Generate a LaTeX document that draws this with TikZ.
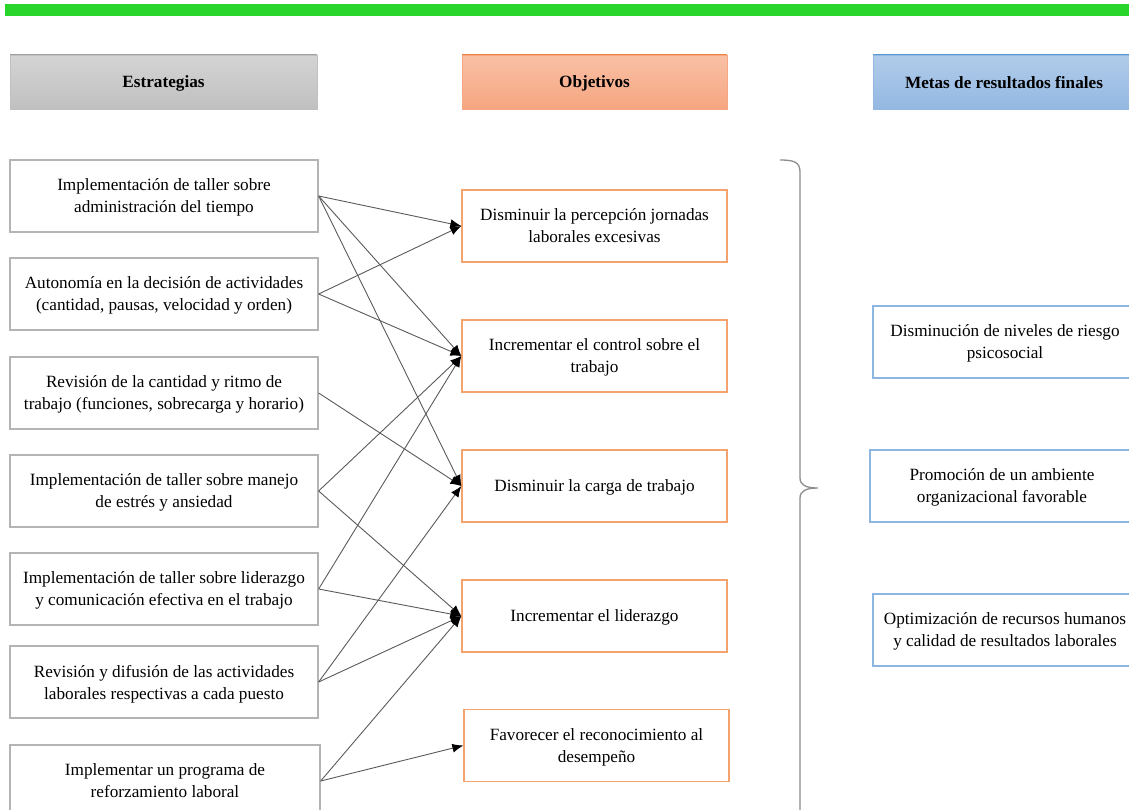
\documentclass[tikz,border=0pt]{standalone}
\usepackage{fontspec}
\setmainfont{Liberation Serif}
\usetikzlibrary{arrows.meta}
\definecolor{barGreen}{HTML}{29D42B}
\definecolor{sBorder}{HTML}{B4B4B4}
\definecolor{oBorder}{HTML}{F4A26E}
\definecolor{mBorder}{HTML}{8DB6E2}
\definecolor{lineGray}{HTML}{5A5A5A}
\definecolor{braceGray}{HTML}{8C8C8C}
\definecolor{hGrayT}{HTML}{D4D4D4}
\definecolor{hGrayB}{HTML}{C0C0C0}
\definecolor{hGrayL}{HTML}{A0A0A0}
\definecolor{hOrT}{HTML}{F9C0A6}
\definecolor{hOrB}{HTML}{F6A680}
\definecolor{hOrL}{HTML}{EE8040}
\definecolor{hBlT}{HTML}{B1CCEA}
\definecolor{hBlB}{HTML}{94B8E2}
\definecolor{hBlL}{HTML}{5B9BD5}
\begin{document}
\begin{tikzpicture}[x=1pt,y=-1pt,
  txt/.style={align=center, inner sep=0pt, text depth=0pt, font=\fontsize{17.2}{22}\selectfont},
  stratbox/.style={txt, draw=sBorder, line width=1.3pt, minimum width=308pt, minimum height=72pt},
  objbox/.style={txt, draw=oBorder, line width=1.3pt, minimum width=265pt, minimum height=72pt},
  metabox/.style={txt, draw=mBorder, line width=1.3pt, minimum width=264pt, minimum height=72pt},
  hdr/.style={align=center, inner sep=0pt, text depth=0pt, minimum height=54pt, font=\fontsize{17.2}{22}\selectfont\bfseries},
  link/.style={draw=lineGray, line width=0.9pt, -{Latex[length=11pt,width=9pt,color=black]}}
]
\useasboundingbox (0,0) rectangle (1129,809);
\clip (0,0) rectangle (1129,809);
\fill[barGreen] (5,4) rectangle (1129,16);

% headers
\node[hdr, top color=hGrayT, bottom color=hGrayB, draw=hGrayB, minimum width=307pt] (H1) at (163.5,82) {Estrategias};
\node[hdr, top color=hOrT, bottom color=hOrB, draw=hOrB, minimum width=265pt] (H2) at (594.5,82) {Objetivos};
\node[hdr, top color=hBlT, bottom color=hBlB, draw=hBlB, minimum width=262pt] (H3) at (1004,82) {Metas de resultados finales};
\draw[hGrayL, line width=1pt] (H1.north west) -- (H1.north east);
\draw[hOrL, line width=1pt] (H2.north west) -- (H2.north east);
\draw[hBlL, line width=1pt] (H3.north west) -- (H3.north east);

% strategies
\node[stratbox] (S1) at (164,196) {Implementación de taller sobre\\administración del tiempo};
\node[stratbox] (S2) at (164,294) {Autonomía en la decisión de actividades\\(cantidad, pausas, velocidad y orden)};
\node[stratbox] (S3) at (164,393) {Revisión de la cantidad y ritmo de\\trabajo (funciones, sobrecarga y horario)};
\node[stratbox] (S4) at (164,491) {Implementación de taller sobre manejo\\de estrés y ansiedad};
\node[stratbox] (S5) at (164,589) {Implementación de taller sobre liderazgo\\y comunicación efectiva en el trabajo};
\node[stratbox] (S6) at (164,682) {Revisión y difusión de las actividades\\laborales respectivas a cada puesto};
\node[stratbox, minimum width=310pt] (S7) at (165,781) {Implementar un programa de\\reforzamiento laboral};

% objectives
\node[objbox] (O1) at (594.5,226) {Disminuir la percepción jornadas\\laborales excesivas};
\node[objbox] (O2) at (594.5,356) {Incrementar el control sobre el\\trabajo};
\node[objbox] (O3) at (594.5,486) {Disminuir la carga de trabajo};
\node[objbox] (O4) at (594.5,616) {Incrementar el liderazgo};
\node[objbox] (O5) at (596.5,745.5) {Favorecer el reconocimiento al\\desempeño};

% goals
\node[metabox] (M1) at (1005,342) {Disminución de niveles de riesgo\\psicosocial};
\node[metabox] (M2) at (1002,486) {Promoción de un ambiente\\organizacional favorable};
\node[metabox] (M3) at (1005,630) {Optimización de recursos humanos\\y calidad de resultados laborales};

% connectors
\draw[link] (S1.east) -- (O1.west);
\draw[link] (S1.east) -- (O2.west);
\draw[link] (S1.east) -- (O3.west);
\draw[link] (S2.east) -- (O1.west);
\draw[link] (S2.east) -- (O2.west);
\draw[link] (S3.east) -- (O3.west);
\draw[link] (S4.east) -- (O2.west);
\draw[link] (S4.east) -- (O4.west);
\draw[link] (S5.east) -- (O2.west);
\draw[link] (S5.east) -- (O4.west);
\draw[link] (S6.east) -- (O3.west);
\draw[link] (S6.east) -- (O4.west);
\draw[link] (S7.east) -- (O4.west);
\draw[link] (S7.east) -- (O5.west);

% brace
\coordinate (BrTop) at (780,160);
\coordinate (BrTip) at (818,488);
\coordinate (BrEnd) at (800,830);
\draw[braceGray, line width=1.3pt]
  (BrTop) .. controls (794,160) and (800,162) .. (800,172)
  -- (800,478) .. controls (800,485) and (806,488) .. (BrTip)
  .. controls (806,488) and (800,491) .. (800,498)
  -- (BrEnd);
\end{tikzpicture}
\end{document}
